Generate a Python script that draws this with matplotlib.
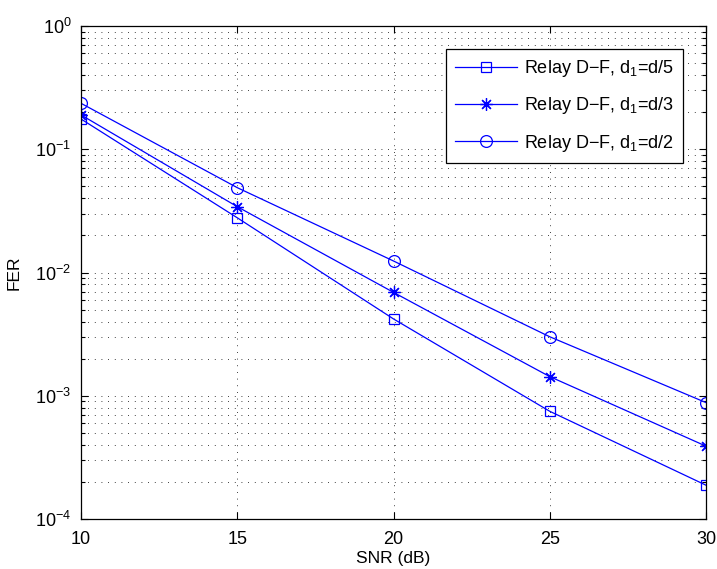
import matplotlib
matplotlib.use("Agg")
import matplotlib.pyplot as plt
from matplotlib.ticker import LogLocator, MultipleLocator, NullFormatter

plt.rcParams['font.family'] = ['Liberation Sans', 'DejaVu Sans']
plt.rcParams['mathtext.fontset'] = 'custom'
plt.rcParams['mathtext.rm'] = 'Liberation Sans'
plt.rcParams['mathtext.it'] = 'Liberation Sans:italic'
plt.rcParams['mathtext.default'] = 'regular'

snr = [10, 15, 20, 25, 30]
fer_d5 = [0.176, 0.0278, 0.0042, 0.000748, 0.000188]
fer_d3 = [0.190, 0.0342, 0.0069, 0.00143, 0.00039]
fer_d2 = [0.236, 0.0488, 0.0124, 0.00301, 0.00088]
labels = ['Relay D\u2212F, d$_1$=d/5', 'Relay D\u2212F, d$_1$=d/3', 'Relay D\u2212F, d$_1$=d/2']

fig = plt.figure(figsize=(7.17, 5.69), dpi=100)
ax = fig.add_axes([81/717, 50/569, 625/717, 493/569])

blue = (0, 0, 1)
ax.plot(snr, fer_d5, color=blue, lw=0.9, marker='s', ms=7, mfc='none', mec=blue, mew=0.9, label=labels[0])
ax.plot(snr, fer_d3, color=blue, lw=0.9, marker=(8, 2, 0), ms=9, mfc='none', mec=blue, mew=0.9, label=labels[1])
ax.plot(snr, fer_d2, color=blue, lw=0.9, marker='o', ms=8.5, mfc='none', mec=blue, mew=0.9, label=labels[2])

ax.set_yscale('log')
ax.set_xlim(10, 30)
ax.set_ylim(1e-4, 1)
ax.xaxis.set_major_locator(MultipleLocator(5))
ax.yaxis.set_major_locator(LogLocator(base=10, numticks=10))
ax.yaxis.set_minor_locator(LogLocator(base=10, subs=range(2, 10), numticks=20))
ax.yaxis.set_minor_formatter(NullFormatter())

ax.grid(True, which='major', axis='both', color='black', linestyle=(0, (1, 7)), linewidth=0.6)
ax.grid(True, which='minor', axis='y', color='black', linestyle=(0, (1, 7)), linewidth=0.6)

ax.tick_params(which='both', direction='in', top=True, right=True, labelsize=13, width=0.8)
ax.tick_params(which='major', length=5)
ax.tick_params(which='minor', length=3)
ax.tick_params(axis='x', which='major', pad=9)
ax.tick_params(axis='y', which='major', pad=7)
for s in ax.spines.values():
    s.set_linewidth(0.9)

ax.set_xlabel('SNR (dB)', fontsize=12.5, labelpad=2)
ax.set_ylabel('FER', fontsize=12.5, labelpad=10)

leg = ax.legend(loc='upper right', bbox_to_anchor=((683 - 81) / 625, (519 - 49) / 493),
                borderaxespad=0, fontsize=13, fancybox=False, framealpha=1, edgecolor='black',
                handlelength=3.4, handletextpad=0.4, borderpad=0.5, labelspacing=0.9)
leg.get_frame().set_linewidth(0.9)

fig.savefig('out.png', dpi=100)
